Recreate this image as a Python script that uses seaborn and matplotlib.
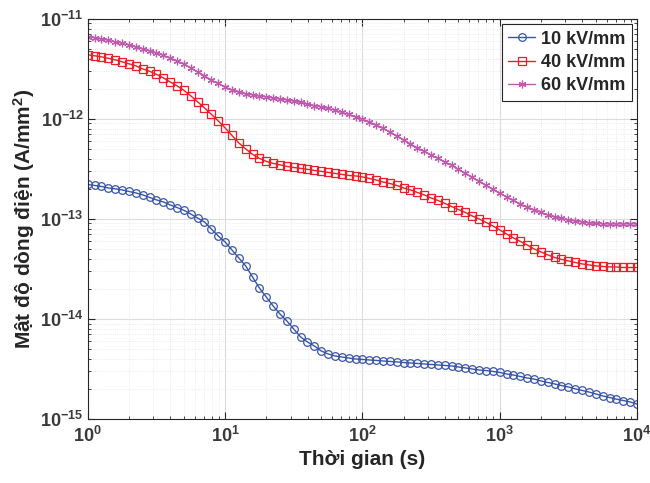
import numpy as np
import pandas as pd
import matplotlib
matplotlib.use("Agg")
import matplotlib.pyplot as plt
import matplotlib.ticker as mticker
import seaborn as sns

# time grid: 20 points per decade, 1 s .. 1e4 s
t = np.logspace(0, 4, 81)

# current density (A/mm^2)
j_10 = [2.21e-13, 2.16e-13, 2.11e-13, 2.04e-13, 2.00e-13, 1.95e-13, 1.88e-13, 1.82e-13, 1.74e-13, 1.64e-13,
        1.55e-13, 1.48e-13, 1.38e-13, 1.30e-13, 1.22e-13, 1.12e-13, 1.02e-13, 9.33e-14, 7.94e-14, 6.76e-14,
        5.89e-14, 4.90e-14, 4.07e-14, 3.39e-14, 2.63e-14, 2.04e-14, 1.66e-14, 1.35e-14, 1.12e-14, 9.55e-15,
        7.94e-15, 6.61e-15, 5.89e-15, 5.37e-15, 4.79e-15, 4.47e-15, 4.27e-15, 4.17e-15, 4.07e-15, 3.98e-15,
        3.94e-15, 3.89e-15, 3.85e-15, 3.80e-15, 3.76e-15, 3.72e-15, 3.67e-15, 3.63e-15, 3.59e-15, 3.55e-15,
        3.51e-15, 3.47e-15, 3.43e-15, 3.39e-15, 3.31e-15, 3.24e-15, 3.16e-15, 3.09e-15, 3.05e-15, 2.99e-15,
        2.92e-15, 2.82e-15, 2.75e-15, 2.66e-15, 2.57e-15, 2.51e-15, 2.40e-15, 2.32e-15, 2.24e-15, 2.16e-15,
        2.09e-15, 2.00e-15, 1.93e-15, 1.86e-15, 1.78e-15, 1.70e-15, 1.64e-15, 1.58e-15, 1.53e-15, 1.48e-15,
        1.41e-15]

j_40 = [4.37e-12, 4.27e-12, 4.17e-12, 4.03e-12, 3.89e-12, 3.72e-12, 3.55e-12, 3.39e-12, 3.16e-12, 2.99e-12,
        2.79e-12, 2.57e-12, 2.34e-12, 2.14e-12, 1.93e-12, 1.70e-12, 1.48e-12, 1.29e-12, 1.11e-12, 9.55e-13,
        8.13e-13, 6.84e-13, 5.75e-13, 5.01e-13, 4.42e-13, 4.03e-13, 3.76e-13, 3.59e-13, 3.47e-13, 3.35e-13,
        3.27e-13, 3.20e-13, 3.13e-13, 3.05e-13, 2.99e-13, 2.92e-13, 2.85e-13, 2.79e-13, 2.72e-13, 2.69e-13,
        2.63e-13, 2.54e-13, 2.45e-13, 2.34e-13, 2.26e-13, 2.16e-13, 2.04e-13, 1.95e-13, 1.84e-13, 1.74e-13,
        1.62e-13, 1.53e-13, 1.43e-13, 1.33e-13, 1.24e-13, 1.16e-13, 1.07e-13, 1.00e-13, 9.23e-14, 8.51e-14,
        7.76e-14, 7.08e-14, 6.46e-14, 5.96e-14, 5.50e-14, 5.01e-14, 4.68e-14, 4.37e-14, 4.12e-14, 3.94e-14,
        3.80e-14, 3.67e-14, 3.55e-14, 3.47e-14, 3.39e-14, 3.35e-14, 3.31e-14, 3.31e-14, 3.27e-14, 3.27e-14,
        3.27e-14]

j_60 = [6.61e-12, 6.46e-12, 6.31e-12, 6.10e-12, 5.89e-12, 5.69e-12, 5.50e-12, 5.25e-12, 5.01e-12, 4.79e-12,
        4.57e-12, 4.32e-12, 4.07e-12, 3.80e-12, 3.55e-12, 3.24e-12, 2.95e-12, 2.69e-12, 2.45e-12, 2.26e-12,
        2.09e-12, 1.95e-12, 1.86e-12, 1.78e-12, 1.74e-12, 1.70e-12, 1.66e-12, 1.62e-12, 1.58e-12, 1.55e-12,
        1.51e-12, 1.46e-12, 1.41e-12, 1.36e-12, 1.32e-12, 1.27e-12, 1.22e-12, 1.16e-12, 1.11e-12, 1.05e-12,
        9.89e-13, 9.33e-13, 8.71e-13, 8.04e-13, 7.41e-13, 6.76e-13, 6.17e-13, 5.62e-13, 5.13e-13, 4.73e-13,
        4.37e-13, 4.03e-13, 3.72e-13, 3.43e-13, 3.13e-13, 2.85e-13, 2.60e-13, 2.37e-13, 2.16e-13, 1.97e-13,
        1.80e-13, 1.66e-13, 1.53e-13, 1.41e-13, 1.32e-13, 1.23e-13, 1.16e-13, 1.10e-13, 1.05e-13, 1.01e-13,
        9.77e-14, 9.55e-14, 9.33e-14, 9.12e-14, 9.02e-14, 8.91e-14, 8.91e-14, 8.91e-14, 8.91e-14, 8.91e-14,
        8.91e-14]

labels = ["10 kV/mm", "40 kV/mm", "60 kV/mm"]
colors = ["#3a55a8", "#ec1f28", "#c05aae"]
markers = ["o", "s", (6, 2, 0)]

sns.set_style("ticks")
plt.rcParams["font.family"] = ["Liberation Sans", "DejaVu Sans"]
plt.rcParams["font.weight"] = "bold"
plt.rcParams["mathtext.fontset"] = "custom"
plt.rcParams["mathtext.rm"] = "Liberation Sans:bold"
plt.rcParams["mathtext.bf"] = "Liberation Sans:bold"
plt.rcParams["mathtext.default"] = "bf"

fig = plt.figure(figsize=(6.5, 4.83), dpi=100)
ax = fig.add_axes([0.135, 0.1325, 0.845, 0.8285])

for y, lab, c, m in zip([j_10, j_40, j_60], labels, colors, markers):
    df = pd.DataFrame({"t": t, "j": y})
    sns.lineplot(data=df, x="t", y="j", ax=ax, color=c, lw=1.0, label=lab,
                 marker=m, markersize=5.5, markerfacecolor="none",
                 markeredgecolor=c, markeredgewidth=0.9)

ax.set_xscale("log")
ax.set_yscale("log")
ax.set_xlim(1, 1e4)
ax.set_ylim(1e-15, 1e-11)

def fmt(v, pos):
    e = int(round(np.log10(v)))
    return r"$\mathbf{10^{%d}}$" % e

ax.xaxis.set_major_formatter(mticker.FuncFormatter(fmt))
ax.yaxis.set_major_formatter(mticker.FuncFormatter(fmt))
ax.xaxis.set_major_locator(mticker.LogLocator(base=10, numticks=10))
ax.yaxis.set_major_locator(mticker.LogLocator(base=10, numticks=10))
ax.xaxis.set_minor_locator(mticker.LogLocator(base=10, subs=np.arange(2, 10), numticks=20))
ax.yaxis.set_minor_locator(mticker.LogLocator(base=10, subs=np.arange(2, 10), numticks=20))
ax.xaxis.set_minor_formatter(mticker.NullFormatter())
ax.yaxis.set_minor_formatter(mticker.NullFormatter())

ax.grid(True, which="major", color="#dcdcdc", lw=0.8, ls="-")
ax.grid(True, which="minor", color="#e4e4e4", lw=0.6, ls=":")
ax.set_axisbelow(True)

ax.tick_params(which="both", direction="in", top=True, right=True,
               colors="#262626", labelcolor="#3a3a3a", labelsize=13)
ax.tick_params(which="major", length=5, width=0.8)
ax.tick_params(which="minor", length=2.5, width=0.6)
ax.tick_params(axis="x", pad=5)
ax.tick_params(axis="y", pad=3)
for s in ax.spines.values():
    s.set_color("#262626")
    s.set_linewidth(0.8)

ax.set_xlabel("Thời gian (s)", fontsize=15, fontweight="bold", color="#262626", labelpad=3)
ax.set_ylabel(r"Mật độ dòng điện (A/mm$^{\mathbf{2}}$)", fontsize=15, fontweight="bold",
              color="#262626", labelpad=2)

leg = ax.legend(loc="upper right", fontsize=13, frameon=True, fancybox=False,
                framealpha=1, edgecolor="#262626", borderaxespad=0.3,
                handlelength=1.5, handletextpad=0.3, labelspacing=0.35, borderpad=0.35)
leg.get_frame().set_linewidth(0.8)
for txt in leg.get_texts():
    txt.set_fontweight("bold")
    txt.set_color("#262626")

fig.savefig("out.png", dpi=100)
